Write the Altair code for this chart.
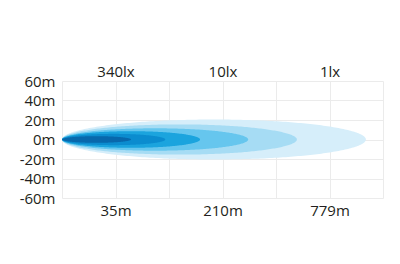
import altair as alt
import numpy as np
import pandas as pd

# Beam zones, from the widest/faintest to the narrowest/darkest
zone_names = ["1lx", "3lx", "10lx", "40lx", "100lx", "340lx"]
zone_reach = [5.68, 4.39, 3.48, 2.58, 1.93, 1.29]   # along the distance grid (grid units)
zone_halfwidth = [20.5, 15.5, 11.5, 8.5, 5.8, 3.4]  # metres
zone_colors = ["#d6eefa", "#a6dcf4", "#66c6ee", "#1ba4de", "#0b8ccf", "#0868ac"]

x_grid = [0, 1, 2, 3, 4, 5, 6]
x_label_pos = [1, 3, 5]
distance_labels = ["35m", "210m", "779m"]
lux_labels = ["340lx", "10lx", "1lx"]
y_ticks = [-60, -40, -20, 0, 20, 40, 60]

FONT = "Open Sans"
TEXT = "#231f20"
FS = 15
GRID = "#ebebeb"


def label_expr(positions, labels):
    expr = "''"
    for p, l in zip(reversed(positions), reversed(labels)):
        expr = f"datum.value == {p} ? '{l}' : ({expr})"
    return expr


# Outline of each zone (an ellipse from the lamp to the zone's reach)
rows = []
t = (1 - np.cos(np.linspace(0, np.pi, 161))) / 2
for name, reach, hw in zip(zone_names, zone_reach, zone_halfwidth):
    for ti in t:
        h = hw * 2 * np.sqrt(max(ti * (1 - ti), 0))
        rows.append({"zone": name, "x": reach * ti, "lo": -h, "hi": h})
df = pd.DataFrame(rows)

xscale = alt.Scale(domain=[0, 6], nice=False, zero=False)
yscale = alt.Scale(domain=[-60, 60], nice=False)

y_axis = alt.Axis(
    values=y_ticks,
    labelExpr="datum.value + 'm'",
    title=None,
    ticks=False,
    domain=False,
    grid=True,
    gridColor=GRID,
    labelPadding=7,
    labelFontSize=FS,
    labelFont=FONT,
    labelColor=TEXT,
)

layers = []
for i, (name, col) in enumerate(zip(zone_names, zone_colors)):
    sub = df[df.zone == name]
    x_enc = alt.X(
        "x:Q",
        scale=xscale,
        axis=alt.Axis(
            values=x_grid,
            labelExpr=label_expr(x_label_pos, distance_labels),
            title=None,
            ticks=False,
            domain=False,
            grid=True,
            gridColor=GRID,
            labelPadding=5,
            labelFontSize=FS,
            labelFont=FONT,
            labelColor=TEXT,
        ) if i == 0 else None,
    )
    layers.append(
        alt.Chart(sub)
        .mark_area(color=col, opacity=1, interpolate="linear")
        .encode(x=x_enc, y=alt.Y("lo:Q", scale=yscale, axis=y_axis), y2="hi:Q")
    )

top_df = pd.DataFrame({"x": x_label_pos, "lab": lux_labels})
top = alt.Chart(top_df).mark_point(opacity=0).encode(
    x=alt.X(
        "x:Q",
        scale=xscale,
        axis=alt.Axis(
            orient="top",
            values=x_label_pos,
            labelExpr=label_expr(x_label_pos, lux_labels),
            title=None,
            ticks=False,
            domain=False,
            grid=False,
            labelPadding=2,
            labelFontSize=FS,
            labelFont=FONT,
            labelColor=TEXT,
        ),
    ),
    y=alt.value(0),
)

chart = (
    alt.layer(*layers, top)
    .resolve_axis(x="independent")
    .properties(
        width=321,
        height=117,
        autosize=alt.AutoSizeParams(type="none"),
        padding={"left": 62, "top": 81, "right": 17, "bottom": 66},
        background="white",
    )
    .configure_view(stroke=None)
)

chart.save("out.html", embed_options={"renderer": "svg", "actions": False})
